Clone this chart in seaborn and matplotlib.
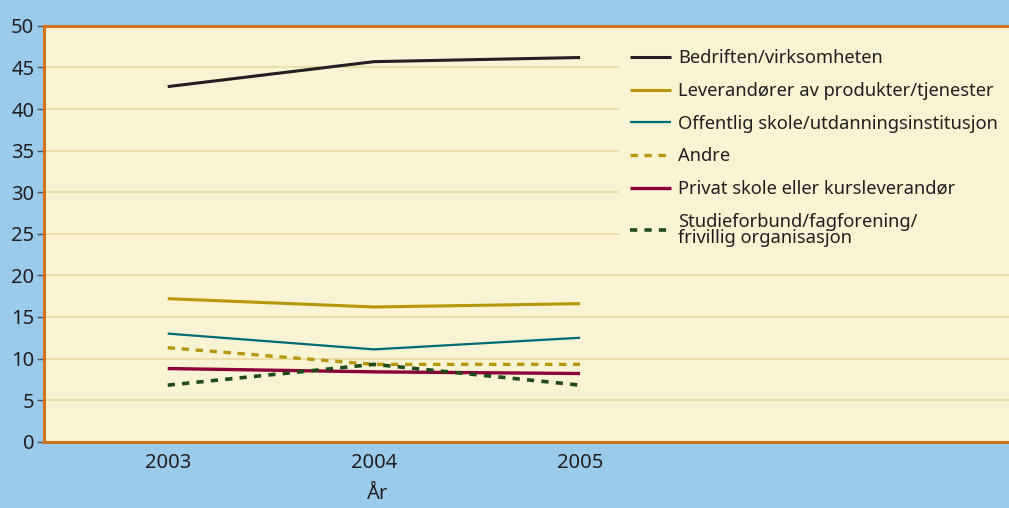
import matplotlib
matplotlib.use("Agg")
import matplotlib.pyplot as plt
import numpy as np
import pandas as pd
import seaborn as sns

years = [2003, 2004, 2005]
series = [
    "Bedriften/virksomheten",
    "Leverandører av produkter/tjenester",
    "Offentlig skole/utdanningsinstitusjon",
    "Andre",
    "Privat skole eller kursleverandør",
    "Studieforbund/fagforening/\nfrivillig organisasjon",
]
bedriften = [42.7, 45.7, 46.2]
leverandorer = [17.2, 16.2, 16.6]
offentlig = [13.0, 11.1, 12.5]
andre = [11.3, 9.3, 9.3]
privat = [8.8, 8.4, 8.2]
studieforbund = [6.8, 9.3, 6.8]

colors = ["#231f20", "#b8960c", "#006b78", "#b8960c", "#8c0039", "#1f4a1a"]
widths = [2.2, 2.2, 1.6, 2.4, 2.4, 2.6]
dashes = [(1, 0), (1, 0), (1, 0), (2.2, 2.0), (1, 0), (2.0, 2.0)]

values = [bedriften, leverandorer, offentlig, andre, privat, studieforbund]
df = pd.DataFrame({
    "year": np.tile(years, len(series)),
    "value": np.concatenate(values),
    "kilde": np.repeat(series, len(years)),
})

bg = "#9bcbea"
face = "#f8f4d3"
spine = "#d0731c"

sns.set_theme(style="white")
plt.rcParams["font.family"] = ["Noto Sans", "DejaVu Sans"]

fig = plt.figure(figsize=(10.09, 5.08), dpi=100, facecolor=bg)
ax = fig.add_axes([0.0436, 0.1305, 0.9564, 0.8185])
ax.set_facecolor(face)

sns.lineplot(data=df, x="year", y="value", hue="kilde", style="kilde",
             palette=dict(zip(series, colors)), dashes=dict(zip(series, dashes)),
             hue_order=series, style_order=series, ax=ax, legend=True)
for line, w in zip(ax.get_lines(), widths):
    line.set_linewidth(w)

ax.set_xlim(2002.4, 2007.08)
ax.set_ylim(0, 50)
ax.set_yticks(range(0, 51, 5))
ax.set_xticks(years)
ax.yaxis.grid(True, color="#ead9a6", lw=1.2)
ax.set_axisbelow(True)
for s in ax.spines.values():
    s.set_color(spine)
    s.set_linewidth(2.2)
ax.spines["right"].set_visible(False)
ax.tick_params(axis="y", left=True, length=5, width=1, color="#555555",
               labelsize=14.5, labelcolor="#231f20", pad=2)
ax.tick_params(axis="x", bottom=False, labelsize=14.5, labelcolor="#231f20", pad=2)
ax.set_ylabel("")
ax.set_xlabel("År", fontsize=14.5, color="#231f20")
ax.xaxis.set_label_coords(0.346, -0.102)

handles, labels = ax.get_legend_handles_labels()
for h, w in zip(handles, widths):
    h.set_linewidth(w)
leg = ax.legend(handles, labels, loc="upper right", bbox_to_anchor=(1.0, 0.97),
                frameon=True, facecolor=face, edgecolor="none", framealpha=1,
                fontsize=13.2, handlelength=2.2, handletextpad=0.4,
                labelspacing=0.8, borderpad=0.6, borderaxespad=0)
for t in leg.get_texts():
    t.set_color("#231f20")
    t.set_linespacing(0.85)

fig.savefig("out.png", dpi=100, facecolor=bg)
